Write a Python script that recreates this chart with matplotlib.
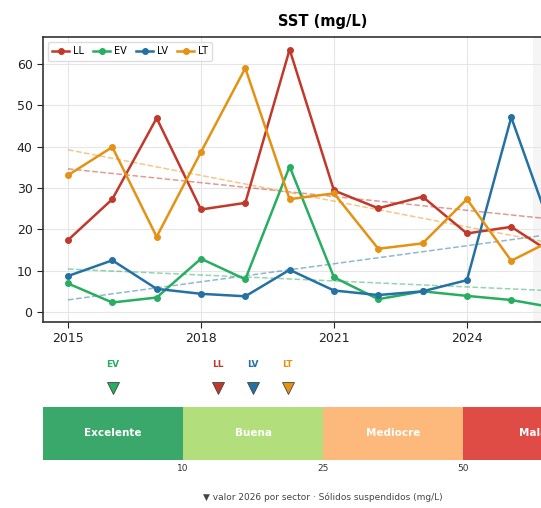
import matplotlib
matplotlib.use("Agg")
import matplotlib.pyplot as plt
import numpy as np

years = list(range(2015, 2027))
sst_ll = [17.4, 27.3, 46.9, 24.8, 26.4, 63.5, 29.4, 25.1, 27.9, 19.0, 20.6, 13.7]
sst_ev = [6.9, 2.3, 3.5, 12.9, 7.9, 35.2, 8.4, 3.1, 5.0, 3.9, 2.9, 1.0]
sst_lv = [8.7, 12.5, 5.6, 4.4, 3.8, 10.2, 5.2, 4.1, 5.0, 7.7, 47.1, 17.0]
sst_lt = [33.1, 39.9, 18.2, 38.7, 59.0, 27.3, 28.7, 15.3, 16.6, 27.3, 12.4, 17.8]

sectors = ["LL", "EV", "LV", "LT"]
colors = {"LL": "#c0392b", "EV": "#27ae60", "LV": "#2471a3", "LT": "#e39214"}

class_names = ["Excelente", "Buena", "Mediocre", "Mala"]
class_bounds = [0, 10, 25, 50, 100]
class_colors = ["#3aa86b", "#b2de7c", "#fdb97b", "#df4c46"]

series = {"LL": sst_ll, "EV": sst_ev, "LV": sst_lv, "LT": sst_lt}

W, H = 541, 508
fig = plt.figure(figsize=(W / 100, H / 100), dpi=100)


def fx(px):
    return px / W


def fy(py):
    return 1 - py / H


# main time series axes (extends past the right edge like the original crop)
ax = fig.add_axes([fx(43), fy(322), fx(560), (322 - 37) / H])
ax.axvspan(2025.5, 2026.5, color="#888888", alpha=0.08, lw=0)
yrs = np.array(years)
for s in sectors:
    vals = np.array(series[s])
    ax.plot(yrs, vals, "-o", color=colors[s], lw=1.8, ms=4, label=s, zorder=3)
    k, b = np.polyfit(yrs, vals, 1)
    ax.plot(yrs, k * yrs + b, "--", color=colors[s], lw=1.1, alpha=0.5, zorder=2)

ax.set_xlim(2014.436, 2027.07)
ax.set_ylim(-2.42, 66.53)
ax.set_xticks([2015, 2018, 2021, 2024, 2026])
ax.set_yticks([0, 10, 20, 30, 40, 50, 60])
ax.tick_params(labelsize=9, colors="#222222", length=4)
ax.grid(True, color="#e6e6e6", lw=0.8)
for sp in ax.spines.values():
    sp.set_color("#333333")
    sp.set_linewidth(1.2)
ax.set_title("SST (mg/L)", fontsize=10.5, fontweight="bold", pad=8)
ax.legend(loc="upper left", ncol=4, fontsize=7, handlelength=1.7,
          columnspacing=1.0, handletextpad=0.4, borderpad=0.45,
          frameon=True, framealpha=1, edgecolor="#dddddd")

# quality class bar with the 2026 value per sector
bx = fig.add_axes([fx(43), fy(460), fx(560), (460 - 350) / H])
bx.set_xlim(0, 4)
bx.set_ylim(0, 110 / 53)
bx.axis("off")
for i, name in enumerate(class_names):
    bx.add_patch(plt.Rectangle((i, 0), 1, 1, color=class_colors[i], lw=0))
    bx.text(i + 0.5, 0.5, name, color="white", fontsize=7.5, fontweight="bold",
            ha="center", va="center")
    if 0 < i:
        bx.text(i, -0.08, str(class_bounds[i]), fontsize=6.5, color="#333333",
                ha="center", va="top")


def class_pos(v):
    for i in range(len(class_bounds) - 1):
        lo, hi = class_bounds[i], class_bounds[i + 1]
        if v < hi or i == len(class_bounds) - 2:
            return i + (v - lo) / (hi - lo)


last = {s: series[s][-1] for s in sectors}
pos = {s: min(max(class_pos(last[s]), 0.5), 3.5) for s in sectors}
order = sorted(sectors, key=lambda s: pos[s])
for a, b in zip(order, order[1:]):
    if pos[b] - pos[a] < 0.25:
        pos[b] = pos[a] + 0.25

for s in sectors:
    bx.plot(pos[s], 1.36, marker="v", ms=9, color=colors[s],
            mec="#444444", mew=0.6, clip_on=False)
    bx.text(pos[s], 1.81, s, color=colors[s], fontsize=6.5, fontweight="bold",
            ha="center", va="center")

fig.text(fx(323), fy(497), "\u25bc valor 2026 por sector \u00b7 S\u00f3lidos suspendidos (mg/L)",
         fontsize=6.5, color="#444444", ha="center", va="center")

fig.savefig("out.png", dpi=100)
